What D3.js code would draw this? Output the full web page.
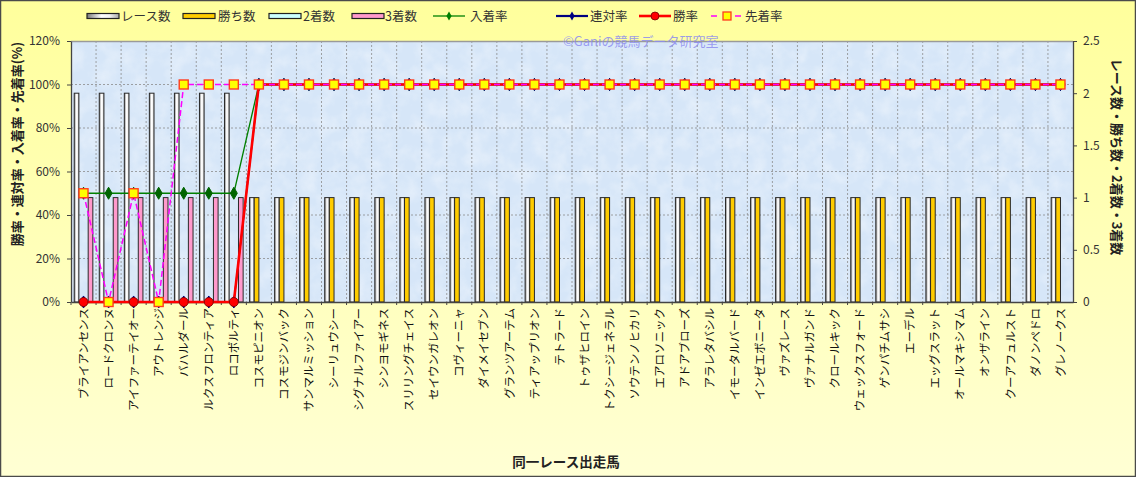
<!DOCTYPE html>
<html><head><meta charset="utf-8">
<script src="https://cdn.jsdelivr.net/npm/d3@7"></script>
<style>
html,body{margin:0;padding:0;background:#fff;}
svg{display:block;font-family:"Noto Sans CJK JP","Noto Sans",sans-serif;}
</style></head><body>
<svg id="chart" width="1136" height="477"></svg>
<script>
const horses = ["ブライアンセンス","ロードクロンヌ","アイファーテイオー","アウトレンジ","バハルダール","ルクスフロンティア","ロコポルティ","コスモピニオン","コスモジンバック","サンマルミッション","シーリュウシー","シグナルファイアー","シンヨモギネス","スリリングチェイス","セイウンガレオン","コヴィーニャ","ダイメイセブン","グランツアーテム","ティアップリオン","テトラード","トゥザヒロイン","トクシージェネラル","ソウテンノヒカリ","エアロソニック","アドアブローズ","アラレタバシル","イモータルバード","インゼエボニータ","ヴァズレース","ヴァナルガンド","クロールキック","ウェックスフォード","ゲンパチムサシ","エーデル","エッグスラット","オールマキシマム","オンザライン","クーアフュルスト","ダノンペドロ","グレノークス"];
const races  = [2,2,2,2,2,2,2,1,1,1,1,1,1,1,1,1,1,1,1,1,1,1,1,1,1,1,1,1,1,1,1,1,1,1,1,1,1,1,1,1];
const wins   = [0,0,0,0,0,0,0,1,1,1,1,1,1,1,1,1,1,1,1,1,1,1,1,1,1,1,1,1,1,1,1,1,1,1,1,1,1,1,1,1];
const second = [0,0,0,0,0,0,0,0,0,0,0,0,0,0,0,0,0,0,0,0,0,0,0,0,0,0,0,0,0,0,0,0,0,0,0,0,0,0,0,0];
const third  = [1,1,1,1,1,1,1,0,0,0,0,0,0,0,0,0,0,0,0,0,0,0,0,0,0,0,0,0,0,0,0,0,0,0,0,0,0,0,0,0];
const placeRate  = [50,50,50,50,50,50,50,100,100,100,100,100,100,100,100,100,100,100,100,100,100,100,100,100,100,100,100,100,100,100,100,100,100,100,100,100,100,100,100,100];
const quinRate   = [0,0,0,0,0,0,0,100,100,100,100,100,100,100,100,100,100,100,100,100,100,100,100,100,100,100,100,100,100,100,100,100,100,100,100,100,100,100,100,100];
const winRate    = [0,0,0,0,0,0,0,100,100,100,100,100,100,100,100,100,100,100,100,100,100,100,100,100,100,100,100,100,100,100,100,100,100,100,100,100,100,100,100,100];
const aheadRate  = [50,0,50,0,100,100,100,100,100,100,100,100,100,100,100,100,100,100,100,100,100,100,100,100,100,100,100,100,100,100,100,100,100,100,100,100,100,100,100,100];
const leftTicks  = [0,20,40,60,80,100,120];
const rightTicks = [0,0.5,1,1.5,2,2.5];
const barSeries  = ["レース数","勝ち数","2着数","3着数"];
const lineSeries = ["入着率","連対率","勝率","先着率"];

const svg = d3.select("#chart");
const W = 1136, H = 477;
const L = 71, R = 1073, T = 41, B = 302;
const defs = svg.append("defs");

// background gradient
const bg = defs.append("linearGradient").attr("id","bg").attr("x1",0).attr("y1",0).attr("x2",0).attr("y2",1);
bg.append("stop").attr("offset","0%").attr("stop-color","#ffff9c");
bg.append("stop").attr("offset","100%").attr("stop-color","#ffffd4");
const rg = defs.append("linearGradient").attr("id","raceg").attr("x1",0).attr("y1",0).attr("x2",1).attr("y2",0);
rg.append("stop").attr("offset","0%").attr("stop-color","#7a7a7a");
rg.append("stop").attr("offset","45%").attr("stop-color","#ffffff");
rg.append("stop").attr("offset","70%").attr("stop-color","#f4f4f4");
rg.append("stop").attr("offset","100%").attr("stop-color","#a8a8a8");
const f = defs.append("filter").attr("id","marble").attr("x",0).attr("y",0).attr("width","100%").attr("height","100%");
f.append("feTurbulence").attr("type","fractalNoise").attr("baseFrequency","0.06").attr("numOctaves",3).attr("seed",4).attr("result","n");
f.append("feColorMatrix").attr("in","n").attr("type","matrix")
 .attr("values","0 0 0 0 1  0 0 0 0 1  0 0 0 0 1  1.2 0 0 0 -0.45").attr("result","w");
f.append("feComposite").attr("in","w").attr("in2","SourceGraphic").attr("operator","in");

svg.append("rect").attr("x",0.5).attr("y",0.5).attr("width",W-1).attr("height",H-1)
  .attr("fill","url(#bg)").attr("stroke","#4a4a4a").attr("stroke-width",1.5);

// scales
const x0 = d3.scaleBand().domain(horses).range([L,R]).paddingInner(0).paddingOuter(0);
const x1 = d3.scaleBand().domain(barSeries).range([0,x0.bandwidth()]).paddingInner(0).paddingOuter(0.69);
const yL = d3.scaleLinear().domain([0,120]).range([B,T]);
const yR = d3.scaleLinear().domain([0,2.5]).range([B,T]);

// plot area
svg.append("rect").attr("x",L).attr("y",T).attr("width",R-L).attr("height",B-T).attr("fill","#d6e6f8");
svg.append("rect").attr("x",L).attr("y",T).attr("width",R-L).attr("height",B-T).attr("fill","#d6e6f8").attr("filter","url(#marble)").attr("opacity",0.55);

// grid
const grid = svg.append("g");
grid.selectAll(".hg").data(leftTicks.slice(1,-1)).join("line")
  .attr("x1",L).attr("x2",R).attr("y1",d=>yL(d)).attr("y2",d=>yL(d))
  .attr("stroke","#8c8c8c").attr("stroke-width",0.8).attr("stroke-dasharray","2,2");
grid.selectAll(".vg").data(horses.slice(1)).join("line")
  .attr("x1",d=>x0(d)).attr("x2",d=>x0(d)).attr("y1",T).attr("y2",B)
  .attr("stroke","#8c8c8c").attr("stroke-width",0.8).attr("stroke-dasharray","2,2");
svg.append("line").attr("x1",L).attr("x2",R).attr("y1",T+0.5).attr("y2",T+0.5).attr("stroke","#9a9a9a").attr("stroke-width",1.5);

// bars
const barData = horses.map((h,i)=>({h, vals:[races[i],wins[i],second[i],third[i]]}));
const fills = ["url(#raceg)","#ffcc00","#ccffff","#ff99cc"];
const gBars = svg.append("g");
barData.forEach(d=>{
  d.vals.forEach((v,j)=>{
    if(v<=0) return;
    gBars.append("rect")
      .attr("x",x0(d.h)+x1(barSeries[j]))
      .attr("y",yR(v))
      .attr("width",x1.bandwidth())
      .attr("height",yR(0)-yR(v))
      .attr("fill",fills[j]).attr("stroke","#2a2a2a").attr("stroke-width",1);
  });
});

// axes
const axL = svg.append("g").attr("transform",`translate(${L},0)`)
  .call(d3.axisLeft(yL).tickValues(leftTicks).tickFormat(d=>d+"%").tickSize(4).tickSizeOuter(0));
const axR = svg.append("g").attr("transform",`translate(${R},0)`)
  .call(d3.axisRight(yR).tickValues(rightTicks).tickFormat(d=>d).tickSize(4).tickSizeOuter(0));
const axB = svg.append("g").attr("transform",`translate(0,${B})`)
  .call(d3.axisBottom(x0).tickSize(0).tickSizeOuter(0));
[axL,axR,axB].forEach(a=>{
  a.select(".domain").attr("stroke","#444").attr("stroke-width",1.3);
  a.selectAll(".tick line").attr("stroke","#444");
  a.selectAll("text").attr("fill","#333").style("font-size","12px").style("font-family","'Noto Sans CJK JP',sans-serif");
});
axL.selectAll("text").attr("x",-11);
axR.selectAll("text").attr("x",10);
axB.selectAll(".tick text")
  .attr("transform","rotate(-90)").attr("text-anchor","end")
  .attr("x",-6).attr("y",0).attr("dy","0.36em")
  .attr("fill","#111").style("font-size","11.5px");
// boundary ticks on x axis
svg.append("g").selectAll("line").data(horses).join("line")
  .attr("x1",d=>x0(d)).attr("x2",d=>x0(d)).attr("y1",B).attr("y2",B+3).attr("stroke","#444");

// lines
const cx = h => x0(h)+x0.bandwidth()/2;
const lineGen = arr => d3.line().x((d,i)=>cx(horses[i])).y(d=>yL(d))(arr);
const diamond = d3.symbol().type(d3.symbolDiamond).size(42);
const gl = svg.append("g");

function drawSeries(arr, color, width, dash, marker){
  gl.append("path").attr("d",lineGen(arr)).attr("fill","none").attr("stroke",color)
    .attr("stroke-width",width).attr("stroke-dasharray",dash||null);
  const g = gl.append("g");
  arr.forEach((v,i)=>{
    const px = cx(horses[i]), py = yL(v);
    marker(g,px,py);
  });
}
const mDiamond = c => (g,px,py)=>g.append("path").attr("d",diamond()).attr("transform",`translate(${px},${py})`).attr("fill",c).attr("stroke",c);
const mCircle = (g,px,py)=>g.append("circle").attr("cx",px).attr("cy",py).attr("r",4.5).attr("fill","#ff0000").attr("stroke","#700000").attr("stroke-width",0.8);
const mSquare = (g,px,py)=>g.append("rect").attr("x",px-4.5).attr("y",py-4.5).attr("width",9).attr("height",9).attr("fill","#ffff00").attr("stroke","#ff3c1e").attr("stroke-width",1.4);

drawSeries(placeRate,"#008000",1.3,null,mDiamond("#006400"));
drawSeries(quinRate,"#000080",1.5,null,mDiamond("#000080"));
drawSeries(winRate,"#ff0000",2.6,null,mCircle);
drawSeries(aheadRate,"#ff00ff",1.5,"6,3",mSquare);

// watermark
svg.append("text").attr("x",563).attr("y",46).text("©Ganiの競馬データ研究室")
  .attr("fill","#8c8cf0").attr("fill-opacity",0.85).style("font-size","13px");

// legend
const legend = svg.append("g").style("font-size","12.5px");
const barLeg = [[87,121],[183,218],[269,303],[352,385]];
barSeries.forEach((s,i)=>{
  legend.append("rect").attr("x",barLeg[i][0]).attr("y",13.5).attr("width",32).attr("height",5)
    .attr("fill",fills[i]).attr("stroke","#222").attr("stroke-width",1.2);
  legend.append("text").attr("x",barLeg[i][1]).attr("y",20.5).text(s).attr("fill","#333");
});
const lineLeg = [[433,470],[556,590],[639,673],[711,745]];
const lcol = ["#008000","#000080","#ff0000","#ff00ff"];
const lw = [1.3,2.2,2.6,1.5];
const lmark = [mDiamond("#006400"),mDiamond("#000080"),mCircle,mSquare];
lineSeries.forEach((s,i)=>{
  const [a,t] = lineLeg[i];
  legend.append("line").attr("x1",a).attr("x2",a+32).attr("y1",16).attr("y2",16)
    .attr("stroke",lcol[i]).attr("stroke-width",lw[i]).attr("stroke-dasharray",i===3?"6,6":null);
  const g = legend.append("g");
  if(i===0||i===1){
    g.append("path").attr("d",d3.symbol().type(d3.symbolDiamond).size(24)()).attr("transform",`translate(${a+16},16)`).attr("fill",lcol[i]);
  } else if(i===2){
    g.append("circle").attr("cx",a+16).attr("cy",16).attr("r",4).attr("fill","#ff0000").attr("stroke","#700000").attr("stroke-width",0.8);
  } else {
    g.append("rect").attr("x",a+12).attr("y",12).attr("width",8).attr("height",8).attr("fill","#ffff00").attr("stroke","#ff3c1e").attr("stroke-width",1.3);
  }
  legend.append("text").attr("x",t).attr("y",20.5).text(s).attr("fill","#333");
});

// axis titles
svg.append("text").attr("transform","translate(22,144) rotate(-90)").attr("text-anchor","middle")
  .text("勝率・連対率・入着率・先着率(%)").style("font-size","13px").style("font-weight","bold").attr("fill","#222");
svg.append("text").attr("transform","translate(1112,157) rotate(90)").attr("text-anchor","middle")
  .text("レース数・勝ち数・2着数・3着数").style("font-size","13px").style("font-weight","bold").attr("fill","#222");
svg.append("text").attr("x",566).attr("y",467).attr("text-anchor","middle")
  .text("同一レース出走馬").style("font-size","13.5px").style("font-weight","bold").attr("fill","#222");
</script>
</body></html>
